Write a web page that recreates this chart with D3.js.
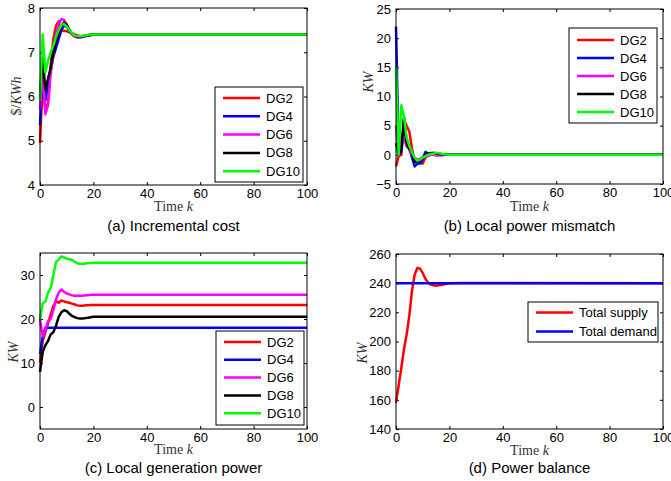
<!DOCTYPE html>
<html>
<head>
<meta charset="utf-8">
<script src="https://cdn.jsdelivr.net/npm/d3@7"></script>
<style>
  body { margin: 0; background: #fff; }
  svg { display: block; }
  .tick text { font-family: "Liberation Sans", Arial, Helvetica, sans-serif; font-size: 13px; fill: #000; }
  .caption { font-family: "Liberation Sans", Arial, Helvetica, sans-serif; font-size: 15px; fill: #000; }
  .legend text { font-family: "Liberation Sans", Arial, Helvetica, sans-serif; font-size: 13px; fill: #000; }
  .axlabel { font-family: "Liberation Serif", "DejaVu Serif", serif; font-size: 14px; fill: #333; }
</style>
</head>
<body>
<svg width="671" height="481"></svg>
<script>
// time steps (samples; curves are flat after k=25)
const steps = [0,1,2,3,4,5,6,7,8,9,10,11,12,13,14,15,16,17,18,19,20,25,100];
const dgNames = ["DG2", "DG4", "DG6", "DG8", "DG10"];
const dgColors = ["#ff0000", "#0000ff", "#ff00ff", "#000000", "#00ff00"];
const xTicks = [0, 20, 40, 60, 80, 100];

// (a) Incremental cost
const costDG2  = [4.95,6.3,5.7,5.85,6.7,7.3,7.6,7.7,7.5,7.48,7.48,7.45,7.43,7.4,7.38,7.37,7.37,7.38,7.39,7.4,7.4,7.4,7.4];
const costDG4  = [5.35,6.5,5.9,6.3,6.6,6.9,7.1,7.3,7.5,7.6,7.58,7.5,7.42,7.37,7.35,7.34,7.35,7.36,7.38,7.39,7.4,7.4,7.4];
const costDG6  = [5.7,6.6,5.6,5.8,6.5,7.0,7.4,7.65,7.75,7.73,7.62,7.5,7.4,7.35,7.33,7.34,7.35,7.37,7.38,7.39,7.4,7.4,7.4];
const costDG8  = [6.0,6.9,6.15,6.4,6.65,7.0,7.25,7.45,7.6,7.67,7.62,7.5,7.42,7.38,7.36,7.35,7.36,7.37,7.38,7.39,7.4,7.4,7.4];
const costDG10 = [5.9,7.4,6.55,6.8,7.0,7.15,7.35,7.5,7.62,7.64,7.58,7.5,7.43,7.38,7.37,7.36,7.37,7.38,7.39,7.4,7.4,7.4,7.4];

// (b) Local power mismatch
const misDG2  = [-2,-0.2,0,6,5,4,1,-1,-1.5,-1.2,-1.5,-0.5,0,0.2,0.3,0.3,0.2,0.1,0.05,0,0,0,0];
const misDG4  = [22,0,0.5,5,1.5,1,-0.5,-2,-1.5,-1.5,-0.8,0.5,0.2,0.1,0.1,0,0,0,0,0,0,0,0];
const misDG6  = [5,0,3,3,1.5,1,0,-0.5,-0.8,-0.7,-0.5,-0.3,-0.2,0,0,-0.1,-0.1,-0.1,-0.05,0,0,0,0];
const misDG8  = [2,0,1,6.5,2,1,0.5,-1.2,-1.2,-0.8,-0.5,0,0.2,0.3,0.3,0.2,0.2,0.1,0.05,0,0,0,0];
const misDG10 = [15,0,8.5,6.5,3,1.5,0.5,-0.5,-1.0,-0.8,-0.5,-0.2,0,0.1,0.2,0.3,0.3,0.2,0.1,0.05,0,0,0];

// (c) Local generation power
const genDG2  = [10,15,17,19,21,23,24,23.7,24.2,24,23.8,23.7,23.5,23.3,23.1,23.0,23.0,23.1,23.1,23.2,23.2,23.2,23.2];
const genDG4  = [12,16,18,18,18,18,18,18,18,18,18,18,18,18,18,18,18,18,18,18,18,18,18];
const genDG6  = [20,16,17.5,19.5,20,22,24.5,26,26.7,26.2,25.8,25.6,25.4,25.3,25.3,25.3,25.3,25.4,25.4,25.5,25.5,25.5,25.5];
const genDG8  = [8,12.5,14,15,16.5,17,18.5,20.5,21.5,22,21.8,21.2,20.7,20.4,20.2,20.1,20.1,20.2,20.3,20.4,20.5,20.5,20.5];
const genDG10 = [20,23.5,24,26,27,30,33,33.5,34.2,34,33.7,33.6,33.4,33,32.7,32.5,32.5,32.6,32.7,32.7,32.8,32.8,32.8];

// (d) Power balance
const totalSupply = [158,170,182,195,205,218,235,246,250.5,250,247,243,240.5,239,238.5,238.3,238.5,238.8,239.2,239.6,239.9,240.1,240];
const totalDemand = [240,240,240,240,240,240,240,240,240,240,240,240,240,240,240,240,240,240,240,240,240,240,240];

const svg = d3.select("svg");

function drawPanel(p) {
  const x = d3.scaleLinear().domain([0, 100]).range([p.left, p.right]);
  const y = d3.scaleLinear().domain(p.yDomain).range([p.bottom, p.top]);
  const g = svg.append("g");
  const fmt = d => d < 0 ? "\u2212" + Math.abs(d) : d;

  //inward ticks on all four sides (matlab box)
  g.append("g")
    .attr("transform", `translate(0,${p.bottom})`)
    .call(d3.axisBottom(x).tickValues(xTicks).tickSizeInner(-3).tickSizeOuter(0).tickPadding(4));
  g.append("g")
    .attr("transform", `translate(0,${p.top})`)
    .call(d3.axisTop(x).tickValues(xTicks).tickSizeInner(-3).tickSizeOuter(0).tickFormat(""));
  g.append("g")
    .attr("transform", `translate(${p.left},0)`)
    .call(d3.axisLeft(y).tickValues(p.yTicks).tickSizeInner(-3).tickSizeOuter(0).tickPadding(5).tickFormat(fmt));
  g.append("g")
    .attr("transform", `translate(${p.right},0)`)
    .call(d3.axisRight(y).tickValues(p.yTicks).tickSizeInner(-3).tickSizeOuter(0).tickFormat(""));
  g.selectAll(".domain").remove();
  g.selectAll(".tick line").attr("stroke", "#000");

  //data lines
  const line = d3.line().x((d, i) => x(steps[i])).y(d => y(d));
  p.series.forEach((s, i) => {
    g.append("path")
      .attr("d", line(s))
      .attr("fill", "none")
      .attr("stroke", p.colors[i])
      .attr("stroke-width", 2.5)
      .attr("stroke-linejoin", "round");
  });

  //box
  g.append("rect")
    .attr("x", p.left).attr("y", p.top)
    .attr("width", p.right - p.left).attr("height", p.bottom - p.top)
    .attr("fill", "none").attr("stroke", "#000").attr("stroke-width", 1);

  //legend
  const lg = g.append("g").attr("class", "legend");
  lg.append("rect")
    .attr("x", p.legend.x).attr("y", p.legend.y)
    .attr("width", p.legend.w).attr("height", p.legend.h)
    .attr("fill", "#fff").attr("stroke", "#000").attr("stroke-width", 1);
  p.names.forEach((name, i) => {
    const ly = p.legend.y + p.legend.first + i * p.legend.step;
    lg.append("line")
      .attr("x1", p.legend.x + 8).attr("x2", p.legend.x + 45)
      .attr("y1", ly).attr("y2", ly)
      .attr("stroke", p.colors[i]).attr("stroke-width", 2.5);
    lg.append("text")
      .attr("x", p.legend.x + 51).attr("y", ly)
      .attr("dy", "0.35em")
      .text(name);
  });

  //x label: Time k
  const xl = g.append("text")
    .attr("class", "axlabel")
    .attr("x", (p.left + p.right) / 2)
    .attr("y", p.xLabelY)
    .attr("text-anchor", "middle");
  xl.append("tspan").text("Time ");
  xl.append("tspan").attr("font-style", "italic").text("k");

  //y label
  const yl = g.append("text")
    .attr("class", "axlabel")
    .attr("text-anchor", "middle")
    .attr("transform", `translate(${p.yLabelX},${p.yLabelY}) rotate(-90)`);
  p.yLabel.forEach(part => {
    yl.append("tspan").attr("font-style", part.italic ? "italic" : "normal").text(part.t);
  });

  //caption
  g.append("text")
    .attr("class", "caption")
    .attr("x", (p.left + p.right) / 2)
    .attr("y", p.captionY)
    .attr("text-anchor", "middle")
    .text(p.caption);
}

const kwLabel = [{t: "KW", italic: true}];

drawPanel({
  left: 40, right: 307, top: 8, bottom: 185,
  yDomain: [4, 8], yTicks: [4, 5, 6, 7, 8],
  series: [costDG2, costDG4, costDG6, costDG8, costDG10],
  names: dgNames, colors: dgColors,
  legend: {x: 215, y: 87, w: 88, h: 95, first: 11, step: 18.3},
  xLabelY: 211, yLabelX: 21, yLabelY: 96,
  yLabel: [{t: "$/", italic: false}, {t: "KWh", italic: true}],
  caption: "(a) Incremental cost", captionY: 231
});

drawPanel({
  left: 396, right: 663, top: 9, bottom: 184,
  yDomain: [-5, 25], yTicks: [-5, 0, 5, 10, 15, 20, 25],
  series: [misDG2, misDG4, misDG6, misDG8, misDG10],
  names: dgNames, colors: dgColors,
  legend: {x: 569, y: 28, w: 88, h: 95, first: 12, step: 18},
  xLabelY: 211, yLabelX: 373, yLabelY: 82,
  yLabel: kwLabel,
  caption: "(b) Local power mismatch", captionY: 231
});

drawPanel({
  left: 40, right: 307, top: 253, bottom: 429,
  yDomain: [-5, 35], yTicks: [0, 10, 20, 30],
  series: [genDG2, genDG4, genDG6, genDG8, genDG10],
  names: dgNames, colors: dgColors,
  legend: {x: 216, y: 331, w: 88, h: 94, first: 11, step: 17.8},
  xLabelY: 454, yLabelX: 18, yLabelY: 352,
  yLabel: kwLabel,
  caption: "(c) Local generation power", captionY: 473
});

drawPanel({
  left: 396, right: 663, top: 254, bottom: 429,
  yDomain: [140, 260], yTicks: [140, 160, 180, 200, 220, 240, 260],
  series: [totalSupply, totalDemand],
  names: ["Total supply", "Total demand"], colors: ["#ff0000", "#0000ff"],
  legend: {x: 528, y: 302, w: 130, h: 40, first: 10.5, step: 19},
  xLabelY: 455, yLabelX: 367, yLabelY: 353,
  yLabel: kwLabel,
  caption: "(d) Power balance", captionY: 473
});
</script>
</body>
</html>
